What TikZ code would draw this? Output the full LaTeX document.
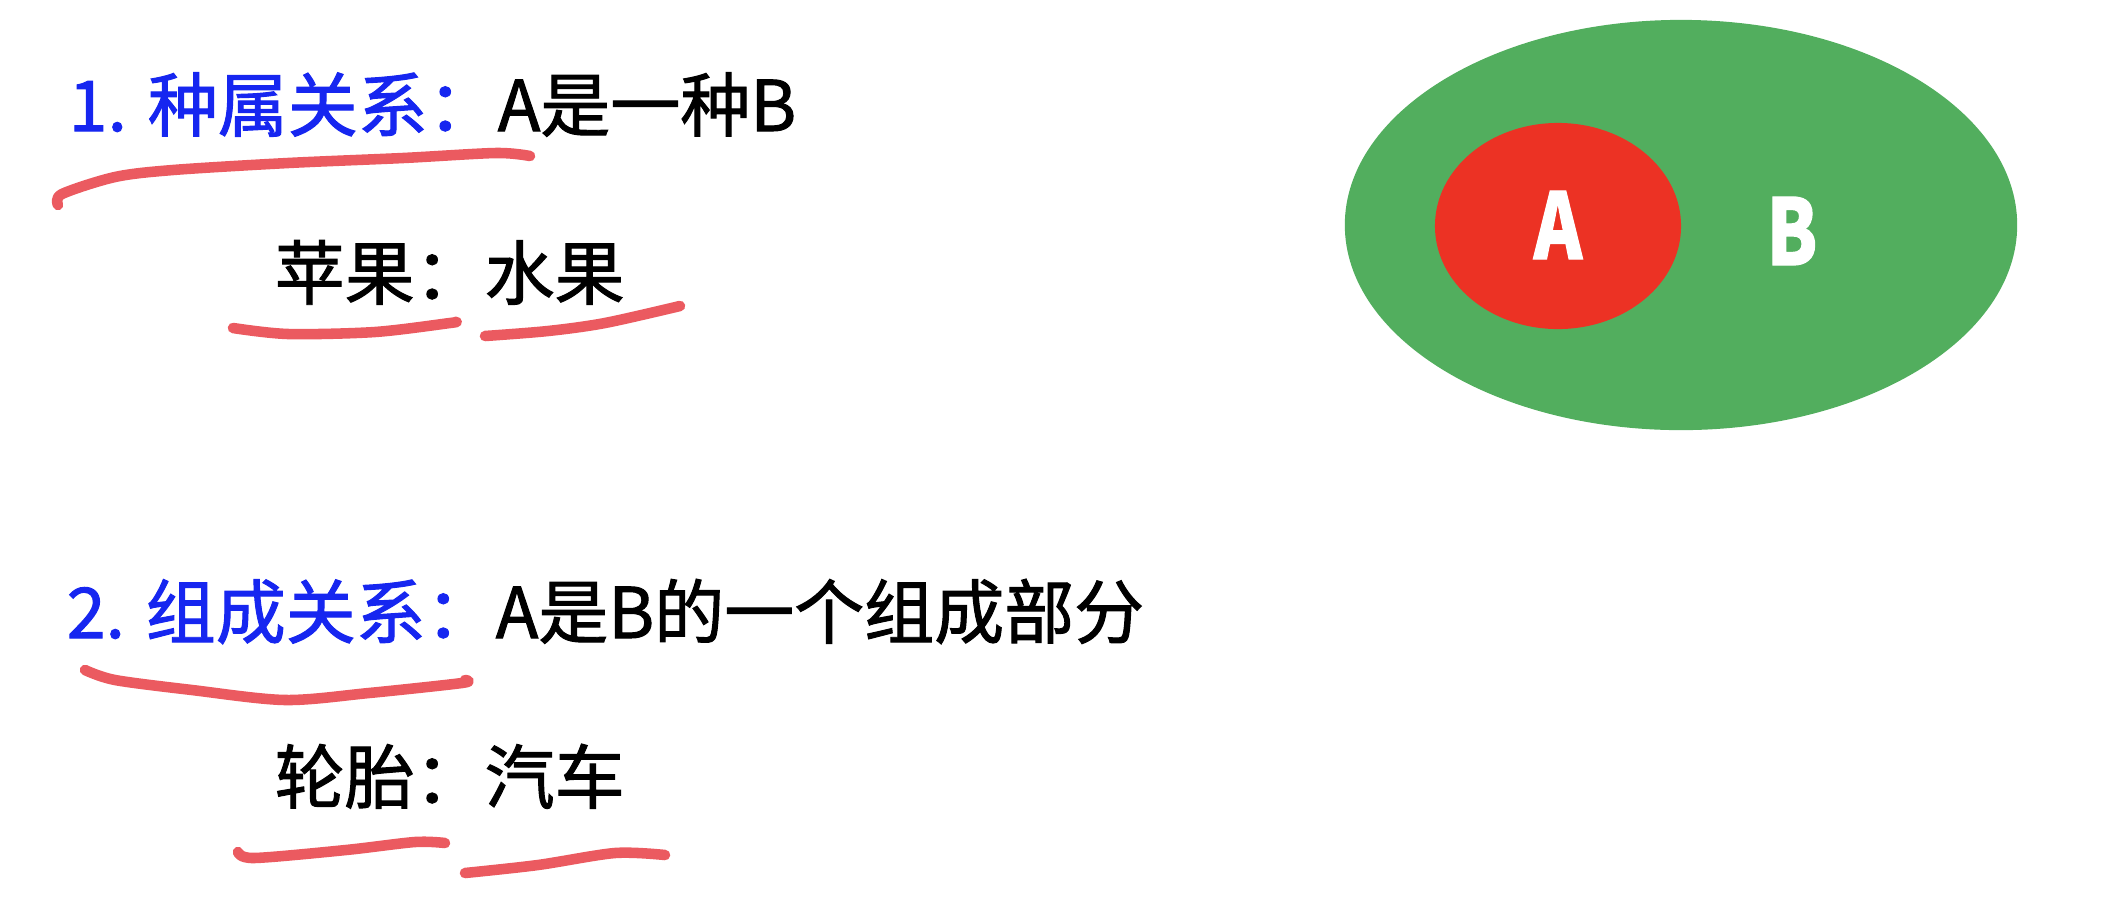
\documentclass[tikz,border=0pt]{standalone}
\usepackage{fontspec}
\setmainfont{Noto Sans CJK SC}[FakeBold=1.4]
\usetikzlibrary{shapes.geometric}
\definecolor{titleblue}{RGB}{22,38,240}
\definecolor{penred}{RGB}{235,90,96}
\definecolor{setgreen}{RGB}{82,174,94}
\definecolor{setred}{RGB}{236,50,36}

\begin{document}
\begin{tikzpicture}[x=0.01cm, y=-0.01cm,
  txt/.style={anchor=base west, inner sep=0pt, font=\fontsize{19.9pt}{24pt}\selectfont},
  pen/.style={penred, line width=3pt, line cap=round, line join=round},
  setlabel/.style={anchor=base, inner sep=0pt, white, font=\fontsize{26pt}{30pt}\selectfont\bfseries}]
  \useasboundingbox (0,0) rectangle (2102,902);

  % Relation 1
  \node[txt] (rel1) at (68,131) {\textcolor{titleblue}{1. 种属关系：}A是一种B};
  \node[txt] (ex1) at (274,299) {苹果：水果};
  \draw[pen] plot[smooth] coordinates {(58,205) (62,194) (115,177) (173,170) (288,163) (403,158) (496,153) (530,156)};
  \draw[pen] plot[smooth] coordinates {(233,328) (288,334) (375,332) (450,323) (455,322)};
  \draw[pen] plot[smooth] coordinates {(485,336) (548,331) (605,323) (680,306)};

  % Relation 2
  \node[txt] (rel2) at (66,638) {\textcolor{titleblue}{2. 组成关系：}A是B的一个组成部分};
  \node[txt] (ex2) at (274,803) {轮胎：汽车};
  \draw[pen] plot[smooth] coordinates {(85,670) (115,680) (192,690) (285,700) (369,693) (462,683) (465,680)};
  \draw[pen] plot[smooth] coordinates {(238,852) (254,858) (346,850) (415,842) (445,843)};
  \draw[pen] plot[smooth] coordinates {(465,873) (538,865) (615,853) (665,855)};

  % Sets
  \node[ellipse, fill=setgreen, minimum width=6.72cm, minimum height=4.1cm, inner sep=0pt] (setB) at (1681,225) {};
  \node[ellipse, fill=setred, minimum width=2.46cm, minimum height=2.06cm, inner sep=0pt] (setA) at (1558,226) {};
  \node[setlabel] (labA) at (1558,259) {\scalebox{0.8}[1]{A}};
  \node[setlabel] (labB) at (1792,265) {\scalebox{0.8}[1]{B}};
\end{tikzpicture}
\end{document}
